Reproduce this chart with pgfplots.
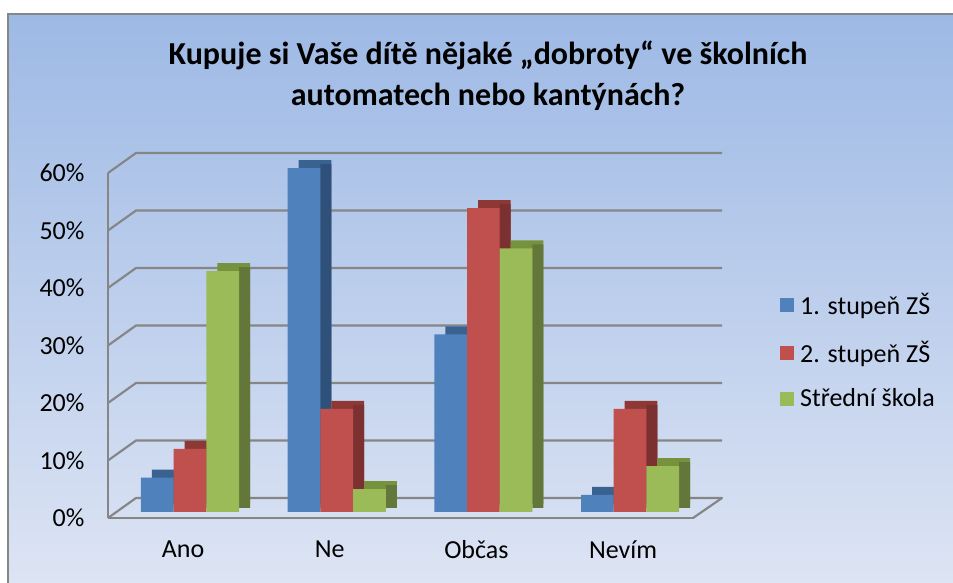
\documentclass[border=0pt]{standalone}
\usepackage{pgfplots}
\pgfplotsset{compat=1.18}
\usepackage{pgfplotstable}
\usepackage{fontspec}
\setmainfont{Carlito}

\definecolor{bgtop}{RGB}{157,185,229}
\definecolor{bgbot}{RGB}{222,229,244}
\definecolor{gridgray}{RGB}{134,134,134}
\definecolor{bluef}{RGB}{79,129,189}
\definecolor{bluet}{RGB}{58,98,145}
\definecolor{blues}{RGB}{47,80,121}
\definecolor{redf}{RGB}{192,80,77}
\definecolor{redt}{RGB}{142,56,54}
\definecolor{reds}{RGB}{124,49,48}
\definecolor{greenf}{RGB}{155,187,89}
\definecolor{greent}{RGB}{118,146,60}
\definecolor{greens}{RGB}{100,119,58}

\pgfplotstableread{
x blue red green
0 6 11 42
1 60 18 4
2 31 53 46
3 3 18 8
}\data

\newcommand{\lbl}{\fontsize{26}{31}\selectfont}

\begin{document}
\begin{tikzpicture}
\useasboundingbox (0pt,0pt) rectangle (953pt,583pt);
\clip (0pt,0pt) rectangle (953pt,583pt);
\fill[white] (0pt,0pt) rectangle (953pt,583pt);
\shade[top color=bgtop, bottom color=bgbot, draw=gridgray, line width=1.2pt]
  (8pt,-10pt) rectangle (970pt,569pt);

\node[align=center, font=\fontsize{32}{41}\selectfont\bfseries] at (488pt,507pt)
  {Kupuje si Vaše dítě nějaké „dobroty“ ve školních\\automatech nebo kantýnách?};

% frame (walls and grid)
\begin{axis}[
  scale only axis, width=585pt, height=345pt,
  at={(108pt,65pt)}, anchor=south west,
  xmin=0, xmax=1, ymin=0, ymax=60,
  axis x line*=bottom, axis y line*=left,
  axis line style={draw=gridgray, line width=2.2pt, -},
  xtick=\empty, ytick={0,10,20,30,40,50,60},
  yticklabels={0\%,10\%,20\%,30\%,40\%,50\%,60\%},
  major tick length=0pt,
  yticklabel style={font=\lbl, xshift=-20pt},
  clip=false,
]
\pgfplotsinvokeforeach{0,10,20,30,40,50,60}{
  \draw[gridgray, line width=2.2pt, line join=round]
    (axis cs:0,#1) -- ++(28pt,20pt) -- ([shift={(29pt,20pt)}]axis cs:1,#1);
}
\draw[gridgray, line width=2.2pt, line cap=round] (axis cs:1,0) -- ++(29pt,20pt);
\end{axis}

% bars
\begin{axis}[
  scale only axis, width=586.7pt, height=344pt,
  at={(116.7pt,71pt)}, anchor=south west,
  xmin=-0.5, xmax=3.5, ymin=0, ymax=60,
  ybar, bar width=32.7pt,
  axis line style={draw=none},
  major tick length=0pt,
  ytick=\empty,
  xtick={0,1,2,3}, xticklabels={Ano,Ne,Občas,Nevím},
  xticklabel style={font=\lbl, xshift=-7pt, yshift=-25pt},
  clip=false,
  legend style={at={(1.1305,0.642)}, anchor=north west, draw=none, fill=none,
    font=\lbl, row sep=21pt, inner sep=0pt,
    nodes={inner sep=2pt, anchor=west},
    /tikz/every odd column/.append style={column sep=4pt}},
  legend cell align=left,
  legend image code/.code={\fill[#1] (0pt,-7pt) rectangle (14pt,7pt);},
]
% blue
\addplot[fill=bluet, draw=none, bar shift=-21.7pt, yshift=8pt, forget plot] table[x=x,y=blue]{\data};
\addplot[fill=blues, draw=none, bar width=11pt, bar shift=-10.85pt, yshift=4pt, forget plot] table[x=x,y=blue]{\data};
\addplot[fill=bluef, draw=none, bar shift=-32.7pt] table[x=x,y=blue]{\data};
% red
\addplot[fill=redt, draw=none, bar shift=11pt, yshift=8pt, forget plot] table[x=x,y=red]{\data};
\addplot[fill=reds, draw=none, bar width=11pt, bar shift=21.85pt, yshift=4pt, forget plot] table[x=x,y=red]{\data};
\addplot[fill=redf, draw=none, bar shift=0pt] table[x=x,y=red]{\data};
% green
\addplot[fill=greent, draw=none, bar shift=43.7pt, yshift=8pt, forget plot] table[x=x,y=green]{\data};
\addplot[fill=greens, draw=none, bar width=11pt, bar shift=54.55pt, yshift=4pt, forget plot] table[x=x,y=green]{\data};
\addplot[fill=greenf, draw=none, bar shift=32.7pt] table[x=x,y=green]{\data};
\legend{1. stupeň ZŠ, 2. stupeň ZŠ, Střední škola}
\end{axis}
\end{tikzpicture}
\end{document}
